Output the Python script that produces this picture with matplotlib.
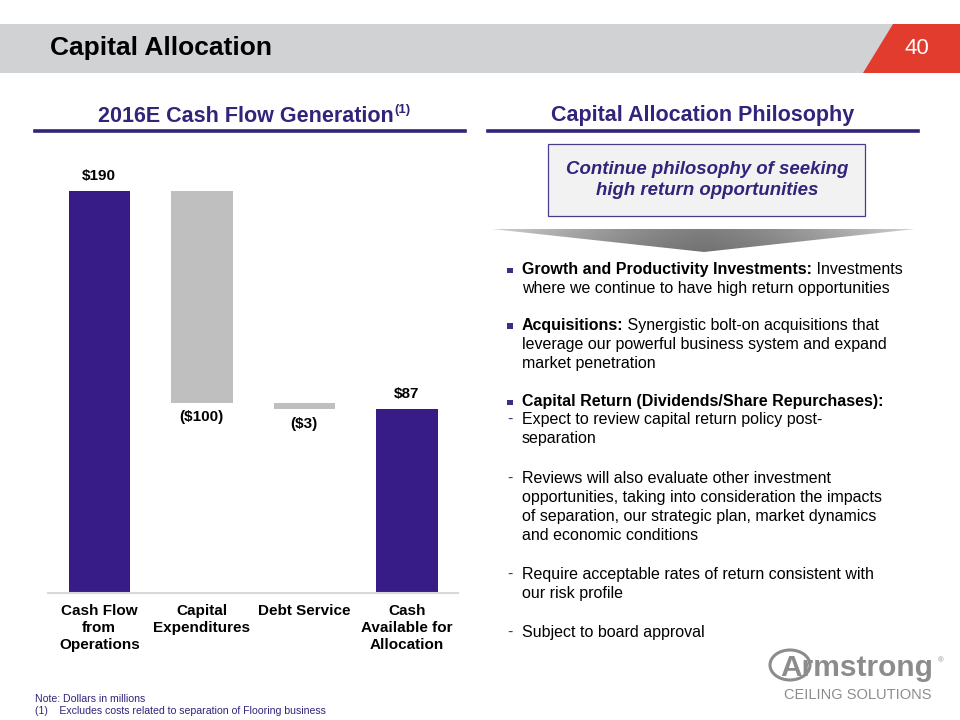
import matplotlib
matplotlib.use("Agg")
import matplotlib.pyplot as plt
from matplotlib.patches import Rectangle, Polygon, Ellipse
import numpy as np

plt.rcParams['font.family'] = ['Liberation Sans', 'DejaVu Sans']

# ---- data ----
categories = ["Cash Flow\nfrom\nOperations", "Capital\nExpenditures", "Debt Service",
              "Cash\nAvailable for\nAllocation"]
values = [190, -100, -3, 87]
is_total = [True, False, False, True]
value_labels = ["$190", "($100)", "($3)", "$87"]

title = "Capital Allocation"
page_no = "40"
left_heading = "2016E Cash Flow Generation"
right_heading = "Capital Allocation Philosophy"
box_text = "Continue philosophy of seeking\nhigh return opportunities"
footnotes = ["Note: Dollars in millions",
             "(1)    Excludes costs related to separation of Flooring business"]

PURPLE = "#371C87"
HEAD = "#33237A"
GRAY_BAR = "#BFBFBF"

W, H = 960, 720
fig = plt.figure(figsize=(9.6, 7.2), dpi=100)
r = fig.canvas.get_renderer()

def fx(x):
    return x / W

def fy(y):
    return 1 - y / H

# overlay axes in pixel coordinates (for gradient chevron)
bg = fig.add_axes([0, 0, 1, 1], zorder=0)
bg.set_xlim(0, W)
bg.set_ylim(H, 0)
bg.axis("off")

# ---- header band ----
fig.patches.append(Rectangle((0, fy(73)), 1, (73 - 24) / H, transform=fig.transFigure,
                             facecolor="#D1D2D4", edgecolor="none", zorder=0))
fig.patches.append(Polygon([(fx(863), fy(73)), (fx(893), fy(24)), (1, fy(24)), (1, fy(73))],
                           closed=True, transform=fig.transFigure,
                           facecolor="#E23C2E", edgecolor="none", zorder=1))
fig.text(fx(50), fy(48), title, fontsize=19, fontweight="bold", color="black",
         va="center", ha="left")
fig.text(fx(917), fy(48), page_no, fontsize=16, color="white", va="center", ha="center")

# ---- section headings ----
t_h = fig.text(fx(246), fy(116), left_heading, fontsize=15.5, fontweight="bold", color=HEAD,
               va="center", ha="center")
bb = t_h.get_window_extent(r)
fig.text(bb.x1 / W + 0.001, fy(110), "(1)", fontsize=9.5, fontweight="bold", color=HEAD,
         va="center", ha="left")
fig.add_artist(plt.Line2D([fx(35), fx(465)], [fy(131), fy(131)], color=HEAD, lw=2.6,
                          transform=fig.transFigure))
fig.text(fx(703), fy(116), right_heading, fontsize=15.5, fontweight="bold", color=HEAD,
         va="center", ha="center")
fig.add_artist(plt.Line2D([fx(488), fx(918)], [fy(131), fy(131)], color=HEAD, lw=2.6,
                          transform=fig.transFigure))

# ---- box ----
fig.patches.append(Rectangle((fx(548), fy(216)), (865 - 548) / W, (216 - 144) / H,
                             transform=fig.transFigure, facecolor="#F2F2F2",
                             edgecolor="#4B3B8F", lw=0.9))
fig.text(fx(707), fy(180), box_text, fontsize=13.4, fontweight="bold", fontstyle="italic",
         color=HEAD, va="center", ha="center", linespacing=1.3)

# ---- chevron with gradient ----
chev = Polygon([(492, 229), (915, 229), (704, 252)], closed=True,
               facecolor="none", edgecolor="none", transform=bg.transData)
bg.add_patch(chev)
gx = np.linspace(492, 915, 300)
gy = np.linspace(229, 252, 40)
GX, GY = np.meshgrid(gx, gy)
d = np.abs(GX - 704) / 212.0
shade = 0.50 + 0.32 * d ** 1.5 - 0.05 * (GY - 229) / 23.0
img = bg.imshow(np.dstack([shade, shade, shade]), extent=(492, 915, 252, 229),
                aspect="auto", interpolation="bilinear")
img.set_clip_path(chev)

# ---- bullets ----
FS = 11.5
def line(y, x, parts):
    cx = fx(x)
    for txt, bold in parts:
        t = fig.text(cx, fy(y), txt, fontsize=FS, fontweight="bold" if bold else "normal",
                     color="black", va="baseline", ha="left")
        b = t.get_window_extent(r)
        cx = (b.x1 - 0.5) / W

def bullet(y):
    s = 5.5
    fig.patches.append(Rectangle((fx(507), fy(y - 1)), s / W, s / H, transform=fig.transFigure,
                                 facecolor="#3A2F80", edgecolor="none"))

def dash(y):
    fig.text(fx(507), fy(y), "-", fontsize=FS, color="#3A2F80", va="baseline", ha="left")

TX = 522
for y in [274, 330, 406]:
    bullet(y)
line(274, TX, [("Growth and Productivity Investments:", True), (" Investments", False)])
line(293, TX, [("where we continue to have high return opportunities", False)])
line(330, TX, [("Acquisitions:", True), (" Synergistic bolt-on acquisitions that", False)])
line(349, TX, [("leverage our powerful business system and expand", False)])
line(368, TX, [("market penetration", False)])
line(406, TX, [("Capital Return (Dividends/Share Repurchases):", True)])
sub = [
    [(424, "Expect to review capital return policy post-"), (443, "separation")],
    [(483, "Reviews will also evaluate other investment"),
     (502, "opportunities, taking into consideration the impacts"),
     (521, "of separation, our strategic plan, market dynamics"),
     (540, "and economic conditions")],
    [(579, "Require acceptable rates of return consistent with"), (598, "our risk profile")],
    [(637, "Subject to board approval")],
]
for grp in sub:
    dash(grp[0][0])
    for y, txt in grp:
        line(y, TX, [(txt, False)])

# ---- waterfall chart ----
ymax = 200
ax = fig.add_axes([fx(48), fy(593), (458 - 48) / W, (ymax * 402 / 190) / H])
x = np.arange(len(values))
bottoms = []
heights = []
run = 0
for v, tot in zip(values, is_total):
    if tot:
        bottoms.append(0)
        heights.append(v)
        run = v
    else:
        bottoms.append(run + v)
        heights.append(-v)
        run = run + v
colors = [PURPLE if t else GRAY_BAR for t in is_total]
ax.bar(x, heights, bottom=bottoms, width=0.6, color=colors, edgecolor="none", zorder=2)
ax.set_xlim(-0.5, 3.5)
ax.set_ylim(0, ymax)
ax.patch.set_alpha(0)
for s in ["top", "right", "left"]:
    ax.spines[s].set_visible(False)
ax.spines["bottom"].set_color("#D9D9D9")
ax.spines["bottom"].set_linewidth(1.5)
ax.set_yticks([])
ax.set_xticks(x)
ax.set_xticklabels(categories, fontsize=11, fontweight="bold", linespacing=1.25)
ax.tick_params(axis="x", length=0, pad=8)
for i, (b, h, lab, v) in enumerate(zip(bottoms, heights, value_labels, values)):
    if v >= 0:
        ax.annotate(lab, (i, b + h), xytext=(0, 6), textcoords="offset points",
                    ha="center", va="bottom", fontsize=11, fontweight="bold")
    else:
        ax.annotate(lab, (i, b), xytext=(0, -5.5), textcoords="offset points",
                    ha="center", va="top", fontsize=11, fontweight="bold")

# ---- footnotes ----
fig.text(fx(35), fy(702), footnotes[0], fontsize=7.6, color=HEAD, va="baseline", ha="left")
fig.text(fx(35), fy(714), footnotes[1], fontsize=7.6, color=HEAD, va="baseline", ha="left")

# ---- logo ----
LG = "#8C8C8C"
fig.text(fx(780), fy(676), "Armstrong", fontsize=21.5, fontweight="bold", color=LG,
         va="baseline", ha="left")
fig.patches.append(Ellipse((fx(790), fy(665)), 40 / W, 30 / H, transform=fig.transFigure,
                           facecolor="none", edgecolor=LG, lw=2.2))
fig.text(fx(938), fy(661), "®", fontsize=5.5, color=LG, va="center", ha="left")
fig.text(fx(784), fy(699), "CEILING SOLUTIONS", fontsize=10.5, color=LG,
         va="baseline", ha="left")

fig.savefig("out.png", dpi=100)
